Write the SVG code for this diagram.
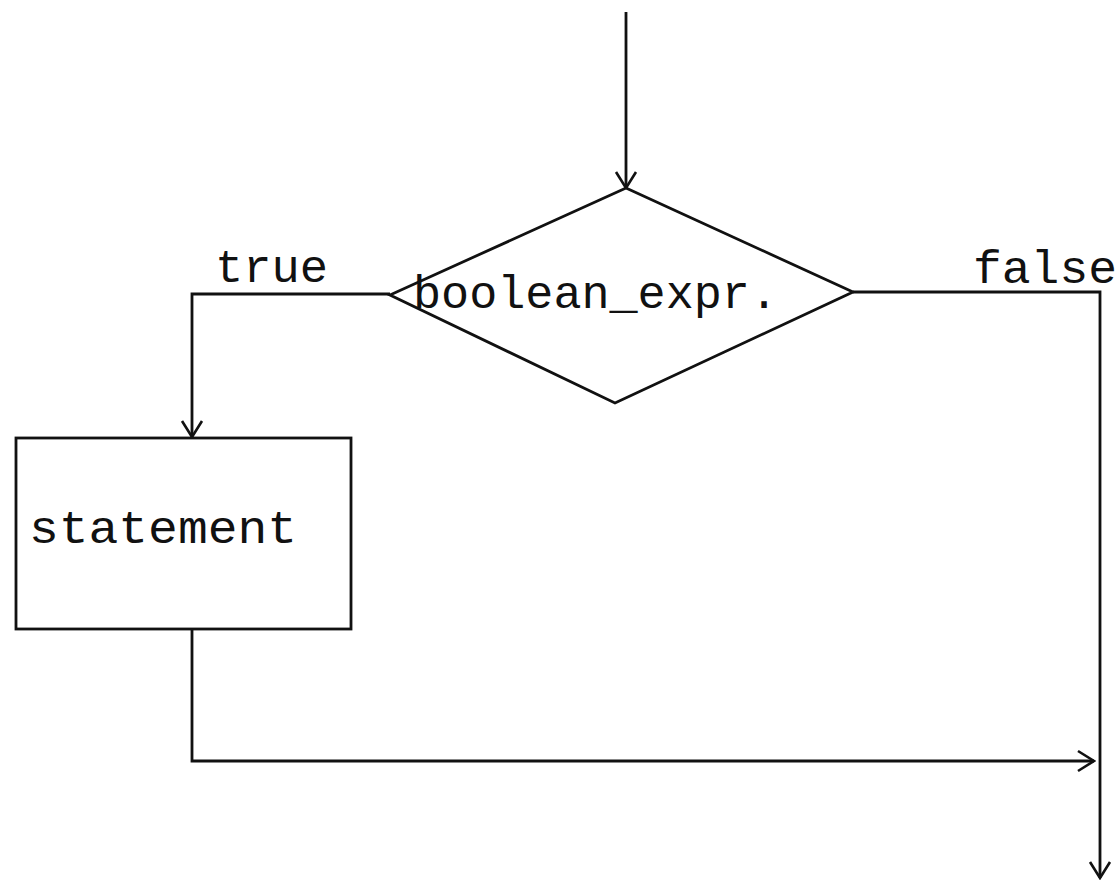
<svg xmlns="http://www.w3.org/2000/svg" width="1119" height="883" viewBox="0 0 1119 883">
  <defs>
    <marker id="open-arrow" viewBox="0 0 20 24" refX="18" refY="12" markerWidth="20" markerHeight="24" markerUnits="userSpaceOnUse" orient="auto">
      <path d="M2,2 L18,12 L2,22" fill="none" stroke="#111" stroke-width="2.6"/>
    </marker>
  </defs>
  <style>
    .shape { fill: #fff; stroke: #111; stroke-width: 2.8; }
    .edge { fill: none; stroke: #111; stroke-width: 2.8; }
    .label { font-family: "Liberation Mono", "Courier New", monospace; font-size: 46px; fill: #111; }
  </style>
  <rect width="1119" height="883" fill="#fff"/>

  <g id="connectors">
    <!-- entry -->
    <path class="edge" d="M626,12 L626,188" marker-end="url(#open-arrow)"/>
    <!-- true branch -->
    <path class="edge" d="M390,294 L192,294 L192,437" marker-end="url(#open-arrow)"/>
    <!-- false branch -->
    <path class="edge" d="M853,292 L1100,292 L1100,878" marker-end="url(#open-arrow)"/>
    <!-- join after statement -->
    <path class="edge" d="M192,629 L192,761 L1094,761" marker-end="url(#open-arrow)"/>
  </g>

  <g id="decision">
    <polygon class="shape" points="626,188 853,292 615,403 390,295"/>
    <text class="label" x="413" y="308" textLength="365" lengthAdjust="spacingAndGlyphs">boolean_expr.</text>
  </g>

  <g id="statement">
    <rect class="shape" x="16" y="438" width="335" height="191"/>
    <text class="label" x="29" y="543" textLength="268" lengthAdjust="spacingAndGlyphs">statement</text>
  </g>

  <g id="labels">
    <text class="label" x="215" y="282" textLength="113" lengthAdjust="spacingAndGlyphs">true</text>
    <text class="label" x="973" y="283" textLength="144" lengthAdjust="spacingAndGlyphs">false</text>
  </g>
</svg>
